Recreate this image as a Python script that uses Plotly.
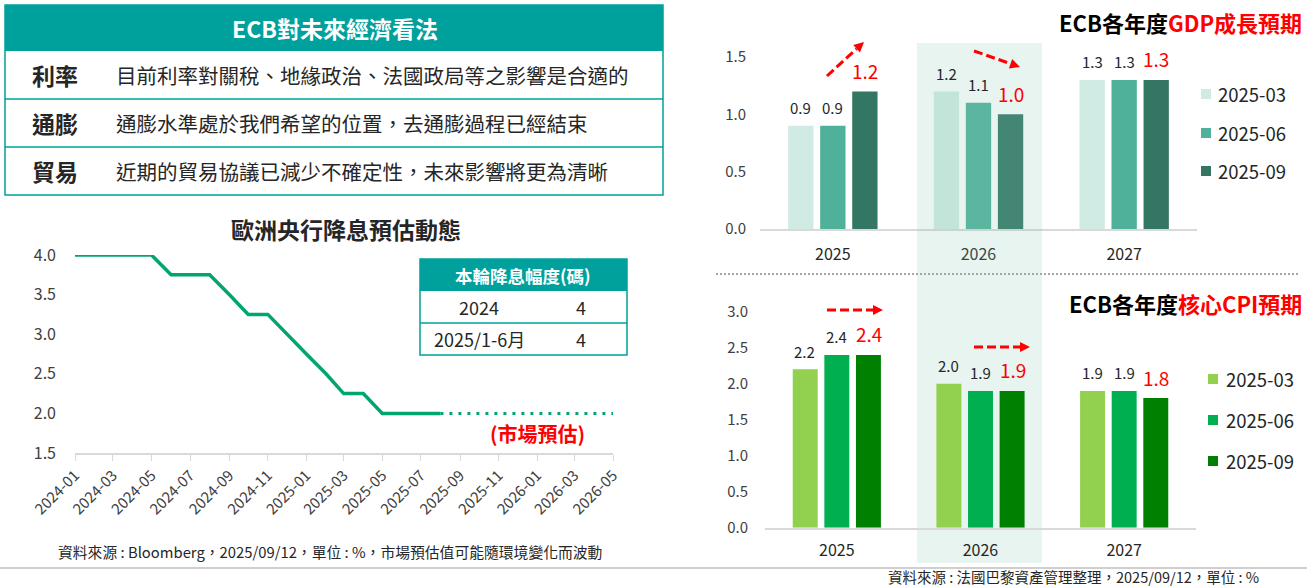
import math
import plotly.graph_objects as go

W, H = 1307, 586
FONT = "Noto Sans CJK TC"
TEAL = "#00A19C"
DARK = "#262626"
GREY_TXT = "#404040"


def X(px):
    return px / W


def Y(py):
    return 1 - py / H


# ---------------- data ----------------
view_title = "ECB對未來經濟看法"
view_topics = ["利率", "通膨", "貿易"]
view_texts = [
    "目前利率對關稅、地緣政治、法國政局等之影響是合適的",
    "通膨水準處於我們希望的位置，去通膨過程已經結束",
    "近期的貿易協議已減少不確定性，未來影響將更為清晰",
]

rate_title = "歐洲央行降息預估動態"
rate_months = ["2024-01", "2024-02", "2024-03", "2024-04", "2024-05", "2024-06",
               "2024-07", "2024-08", "2024-09", "2024-10", "2024-11", "2024-12",
               "2025-01", "2025-02", "2025-03", "2025-04", "2025-05", "2025-06",
               "2025-07", "2025-08"]
rate_values = [4.0, 4.0, 4.0, 4.0, 4.0, 3.75, 3.75, 3.75, 3.5, 3.25, 3.25, 3.0,
               2.75, 2.5, 2.25, 2.25, 2.0, 2.0, 2.0, 2.0]
market_months = ["2025-08", "2025-09", "2025-10", "2025-11", "2025-12", "2026-01",
                 "2026-02", "2026-03", "2026-04", "2026-05"]
market_values = [2.0, 2.0, 2.0, 2.0, 2.0, 2.0, 2.0, 2.0, 2.0, 2.0]
market_label = "(市場預估)"
rate_source = "資料來源 : Bloomberg，2025/09/12，單位 : %，市場預估值可能隨環境變化而波動"

cut_header = "本輪降息幅度(碼)"
cut_periods = ["2024", "2025/1-6月"]
cut_counts = [4, 4]

years = ["2025", "2026", "2027"]
vintages = ["2025-03", "2025-06", "2025-09"]
gdp_2025_03 = [0.9, 1.2, 1.3]
gdp_2025_06 = [0.9, 1.1, 1.3]
gdp_2025_09 = [1.2, 1.0, 1.3]
cpi_2025_03 = [2.2, 2.0, 1.9]
cpi_2025_06 = [2.4, 1.9, 1.9]
cpi_2025_09 = [2.4, 1.9, 1.8]
gdp_title = "ECB各年度<span style='color:#FF0000'>GDP成長預期</span>"
cpi_title = "ECB各年度<span style='color:#FF0000'>核心CPI預期</span>"
bar_source = "資料來源 : 法國巴黎資產管理整理，2025/09/12，單位 : %"

gdp_colors = ["#D0EBE3", "#4FB19A", "#337664"]
cpi_colors = ["#92D050", "#00B050", "#008000"]

# ---------------- figure ----------------
fig = go.Figure()

# rate line
fig.add_trace(go.Scatter(x=rate_months, y=rate_values, mode="lines",
                         line=dict(color="#00A66E", width=3.5),
                         cliponaxis=False, xaxis="x", yaxis="y", showlegend=False,
                         hoverinfo="skip"))
fig.add_trace(go.Scatter(x=market_months, y=market_values, mode="lines",
                         line=dict(color="#00A66E", width=3, dash="3px,6px"),
                         cliponaxis=False, xaxis="x", yaxis="y", showlegend=False,
                         hoverinfo="skip"))

# bars
offsets = [-32, 0, 32]
for series, name, col in zip([gdp_2025_03, gdp_2025_06, gdp_2025_09], vintages, gdp_colors):
    fig.add_trace(go.Bar(x=years, y=series, name=name, marker=dict(color=col, line=dict(width=0)),
                         xaxis="x2", yaxis="y2", showlegend=False))
for series, name, col in zip([cpi_2025_03, cpi_2025_06, cpi_2025_09], vintages, cpi_colors):
    fig.add_trace(go.Bar(x=years, y=series, name=name, marker=dict(color=col, line=dict(width=0)),
                         xaxis="x3", yaxis="y3", showlegend=False))

annotations = []
shapes = []


def label(px, py, text, size, color=DARK, xanchor="center", bold=False):
    annotations.append(dict(x=X(px), y=Y(py), xref="paper", yref="paper",
                            text=f"<b>{text}</b>" if bold else text, showarrow=False,
                            xanchor=xanchor, yanchor="middle",
                            font=dict(family=FONT, size=size, color=color)))


# bar value labels (x = category serial number on the category axis)
for axn, all_series in [("2", [gdp_2025_03, gdp_2025_06, gdp_2025_09]),
                        ("3", [cpi_2025_03, cpi_2025_06, cpi_2025_09])]:
    for i, series in enumerate(all_series):
        red = i == 2
        for j, v in enumerate(series):
            annotations.append(dict(
                x=j, y=v, xref="x" + axn, yref="y" + axn, text=f"{v:.1f}", showarrow=False,
                xshift=offsets[i], yshift=21 if red else 18, xanchor="center", yanchor="middle",
                font=dict(family=FONT, size=19 if red else 15, color="#FF0000" if red else DARK)))

# ---- top-left table ----
shapes.append(dict(type="rect", xref="paper", yref="paper", x0=X(5), x1=X(663), y0=Y(51), y1=Y(5),
                   fillcolor=TEAL, line=dict(width=0)))
shapes.append(dict(type="rect", xref="paper", yref="paper", x0=X(5), x1=X(663), y0=Y(195), y1=Y(5),
                   line=dict(color=TEAL, width=1.5)))
label(335, 28, view_title, 23, "white", bold=True)
for i, (topic, txt) in enumerate(zip(view_topics, view_texts)):
    top = 51 + i * 48
    cy = top + 24
    if i > 0:
        shapes.append(dict(type="line", xref="paper", yref="paper", x0=X(5), x1=X(663),
                           y0=Y(top), y1=Y(top), line=dict(color=TEAL, width=1.5)))
    label(55, cy, topic, 23, bold=True)
    label(114, cy, txt, 20.5, xanchor="left")

# ---- line chart title, inset table, labels ----
label(346, 229, rate_title, 23, bold=True)
shapes.append(dict(type="rect", xref="paper", yref="paper", x0=X(420), x1=X(627), y0=Y(291), y1=Y(259),
                   fillcolor=TEAL, line=dict(width=0)))
shapes.append(dict(type="rect", xref="paper", yref="paper", x0=X(420), x1=X(627), y0=Y(355), y1=Y(259),
                   line=dict(color=TEAL, width=1.5)))
shapes.append(dict(type="line", xref="paper", yref="paper", x0=X(420), x1=X(627), y0=Y(323), y1=Y(323),
                   line=dict(color=TEAL, width=1.5)))
label(523, 275, cut_header, 17.5, "white", bold=True)
for i, (p, c) in enumerate(zip(cut_periods, cut_counts)):
    cy = 307 + i * 32
    label(479, cy, p, 18)
    label(581, cy, str(c), 18)
label(537, 433, market_label, 20, "#FF0000", bold=True)
label(330, 551, rate_source, 14.8)

# ---- right side ----
label(1304, 22, gdp_title, 22, "#000000", xanchor="right", bold=True)
label(1304, 303, cpi_title, 22, "#000000", xanchor="right", bold=True)
label(1073, 576, bar_source, 14.5)

# band behind 2026 (upper part tints the GDP bars, lower part sits behind CPI bars)
shapes.append(dict(type="rect", xref="paper", yref="paper", x0=X(917), x1=X(1042), y0=Y(274), y1=Y(43),
                   fillcolor="rgba(139,200,179,0.2)", line=dict(width=0), layer="above"))
shapes.append(dict(type="rect", xref="paper", yref="paper", x0=X(917), x1=X(1042), y0=Y(563), y1=Y(274),
                   fillcolor="#E8F4F0", line=dict(width=0), layer="below"))

# separators
shapes.append(dict(type="line", xref="paper", yref="paper", x0=X(716), x1=X(1300), y0=Y(274), y1=Y(274),
                   line=dict(color="#A6A6A6", width=2, dash="2px,2px")))
shapes.append(dict(type="line", xref="paper", yref="paper", x0=0, x1=1, y0=Y(568), y1=Y(568),
                   line=dict(color="#BFBFBF", width=1.5)))

# legends (manual)
for rows_y, sq_x, txt_x, cols in [([94, 133, 171], 1201, 1216, gdp_colors),
                                  ([379, 420, 461], 1208, 1224, cpi_colors)]:
    for yy, name, col in zip(rows_y, vintages, cols):
        shapes.append(dict(type="rect", xref="paper", yref="paper", x0=X(sq_x), x1=X(sq_x + 10),
                           y0=Y(yy + 5), y1=Y(yy - 5), fillcolor=col, line=dict(width=0)))
        label(txt_x, yy, name, 18.5, xanchor="left")


# dashed arrows
def arrow(x0, y0, x1, y1):
    d = math.hypot(x1 - x0, y1 - y0)
    ux, uy = (x1 - x0) / d, (y1 - y0) / d
    hl, hw = 10, 5
    bx, by = x1 - ux * hl, y1 - uy * hl
    shapes.append(dict(type="line", xref="paper", yref="paper", x0=X(x0), y0=Y(y0), x1=X(bx), y1=Y(by),
                       line=dict(color="#FF0000", width=3, dash="9px,4px")))
    px, py = -uy, ux
    pts = [(x1, y1), (bx + px * hw, by + py * hw), (bx - px * hw, by - py * hw)]
    path = "M " + " L ".join(f"{X(a):.5f},{Y(b):.5f}" for a, b in pts) + " Z"
    shapes.append(dict(type="path", xref="paper", yref="paper", path=path,
                       fillcolor="#FF0000", line=dict(width=0)))


arrow(827, 76, 864, 42)
arrow(974, 51, 1020, 67)
arrow(827, 310, 883, 310)
arrow(974, 347, 1030, 347)

tick_font = dict(family=FONT, size=15, color=GREY_TXT)
fig.update_layout(
    width=W, height=H, autosize=False,
    margin=dict(l=0, r=0, t=0, b=0, pad=0, autoexpand=False),
    paper_bgcolor="white", plot_bgcolor="rgba(0,0,0,0)",
    barmode="group", bargap=0.34, bargroupgap=0.21,
    showlegend=False,
    font=dict(family=FONT, color=DARK),
    xaxis=dict(domain=[X(75), X(613)], anchor="y", type="date",
               range=["2024-01-01", "2026-05-01"], tick0="2024-01-01", dtick="M2",
               tickformat="%Y-%m", tickangle=-45, ticks="outside", ticklen=6,
               tickcolor="#D9D9D9", showline=True, linecolor="#D9D9D9", linewidth=1.5,
               showgrid=False, zeroline=False, automargin=False,
               tickfont=dict(family=FONT, size=15, color=GREY_TXT)),
    yaxis=dict(domain=[Y(453), Y(255)], anchor="x", range=[1.5, 4.0], dtick=0.5,
               tickformat=".1f", showgrid=False, zeroline=False, showline=False, automargin=False,
               ticklabelstandoff=18, tickfont=dict(family=FONT, size=16, color=GREY_TXT)),
    xaxis2=dict(domain=[X(760), X(1197)], anchor="y2", type="category", range=[-0.5, 2.5],
                showline=True, linecolor="#D9D9D9", linewidth=1.5, showgrid=False, zeroline=False,
                ticks="", ticklabelstandoff=10, automargin=False,
                tickfont=dict(family=FONT, size=16, color=DARK)),
    yaxis2=dict(domain=[Y(229), Y(57)], anchor="x2", range=[0, 1.5], dtick=0.5, tickformat=".1f",
                showgrid=False, zeroline=False, showline=False, ticklabelstandoff=13,
                automargin=False, tickfont=tick_font),
    xaxis3=dict(domain=[X(765), X(1196)], anchor="y3", type="category", range=[-0.5, 2.5],
                showline=True, linecolor="#D9D9D9", linewidth=1.5, showgrid=False, zeroline=False,
                ticks="", ticklabelstandoff=7, automargin=False,
                tickfont=dict(family=FONT, size=16, color=DARK)),
    yaxis3=dict(domain=[Y(527.7), Y(311.7)], anchor="x3", range=[0, 3.0], dtick=0.5,
                tickformat=".1f", showgrid=False, zeroline=False, showline=False,
                ticklabelstandoff=16, automargin=False, tickfont=tick_font),
    shapes=shapes,
    annotations=annotations,
)

fig.write_html("out.html", config={"displayModeBar": False},
               post_script="document.body.style.margin='0';")
